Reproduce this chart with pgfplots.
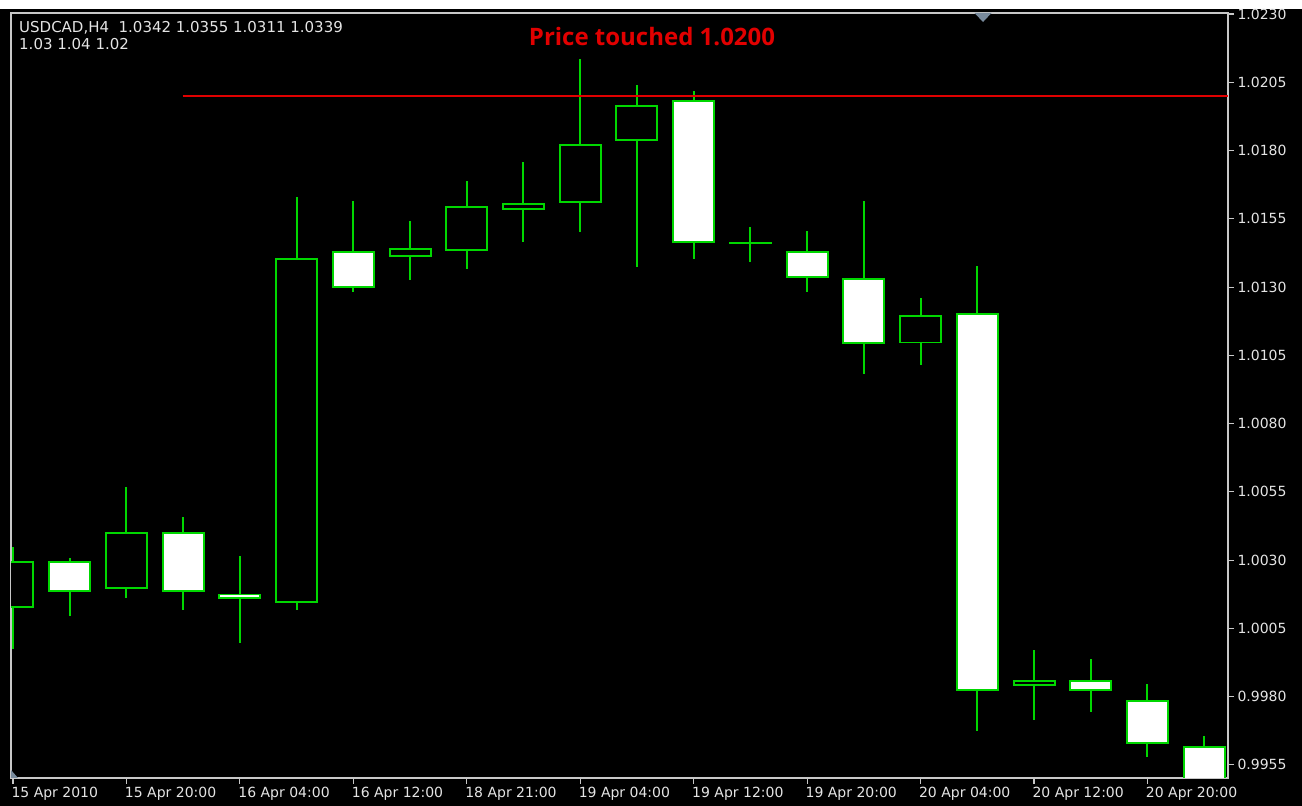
\documentclass[border=0pt]{standalone}
\usepackage{fontspec}
\setmainfont{DejaVu Sans}
\newfontfamily\pricefont{Open Sans}
\usepackage{pgfplots}
\usepackage{pgfplotstable}
\pgfplotsset{compat=1.18}

\definecolor{cndl}{RGB}{0,215,0}
\definecolor{pricered}{RGB}{225,0,0}
\definecolor{frame}{RGB}{200,200,200}
\definecolor{lbl}{RGB}{228,228,228}
\definecolor{tri}{RGB}{120,138,156}

% USDCAD H4 candles: x open high low close
\pgfplotstableread{
x  o       h       l       c
0  1.00127 1.00349 0.99977 1.00297
1  1.00296 1.00310 1.00098 1.00185
2  1.00197 1.00571 1.00164 1.00406
3  1.00406 1.00459 1.00118 1.00185
4  1.00178 1.00316 0.99996 1.00159
5  1.00145 1.01631 1.00118 1.01407
6  1.01434 1.01616 1.01282 1.01297
7  1.01413 1.01545 1.01326 1.01446
8  1.01433 1.01688 1.01367 1.01597
9  1.01582 1.01759 1.01465 1.01609
10 1.01608 1.02137 1.01504 1.01824
11 1.01837 1.02039 1.01373 1.01967
12 1.01985 1.02021 1.01406 1.01461
13 1.01463 1.01520 1.01392 1.01463
14 1.01433 1.01506 1.01281 1.01335
15 1.01335 1.01616 1.00983 1.01094
16 1.01094 1.01259 1.01015 1.01199
17 1.01207 1.01378 0.99674 0.99821
18 0.99839 0.99972 0.99714 0.99861
19 0.99861 0.99939 0.99746 0.99821
20 0.99789 0.99848 0.99579 0.99626
21 0.99619 0.99654 0.99400 0.99450
}\ohlc

\pgfplotsset{candle/.style={draw=none, no markers,
  error bars/.cd, y dir=both, y explicit, error mark=none}}

\begin{document}
\begin{tikzpicture}
\fill[black] (0,0) rectangle (1302pt,806pt);
\fill[white] (0,797pt) rectangle (1302pt,806pt);
\useasboundingbox (0,0) rectangle (1302pt,806pt);
\begin{axis}[
  at={(11pt,28pt)}, anchor=south west,
  width=1217pt, height=765pt, scale only axis,
  xmin=-0.035, xmax=21.42, ymin=0.99502, ymax=1.02304,
  axis line style={draw=frame, line width=1.3pt},
  tick style={draw=frame, line width=1.2pt},
  tick align=outside, major tick length=6pt,
  scaled ticks=false,
  xtick={0,2,4,6,8,10,12,14,16,18,20},
  xticklabels={15 Apr 2010, 15 Apr 20:00, 16 Apr 04:00, 16 Apr 12:00, 18 Apr 21:00,
    19 Apr 04:00, 19 Apr 12:00, 19 Apr 20:00, 20 Apr 04:00, 20 Apr 12:00, 20 Apr 20:00},
  ytick={0.9955,0.9980,1.0005,1.0030,1.0055,1.0080,1.0105,1.0130,1.0155,1.0180,1.0205,1.0230},
  yticklabels={0.9955,0.9980,1.0005,1.0030,1.0055,1.0080,1.0105,1.0130,1.0155,1.0180,1.0205,1.0230},
  xtick pos=left, ytick pos=right,
  xticklabel pos=lower, yticklabel pos=upper,
  ticklabel style={font=\fontsize{14}{16}\selectfont, text=lbl},
  xticklabel style={anchor=north west, xshift=-5pt},
  yticklabel style={anchor=west},
  clip marker paths=true,
]
% wicks
\addplot[candle, error bar style={draw=cndl, line width=2pt}]
  table[x=x, y expr={(\thisrow{h}+\thisrow{l})/2}, y error expr={(\thisrow{h}-\thisrow{l})/2}] {\ohlc};
% body outlines
\addplot[candle, error bar style={draw=cndl, line width=43pt}]
  table[x=x, y expr={(\thisrow{o}+\thisrow{c})/2}, y error expr={max(abs(\thisrow{o}-\thisrow{c})/2,0.00004)}] {\ohlc};
% bull bodies (hollow)
\addplot[candle, error bar style={draw=black, line width=39pt}]
  table[x=x, y expr={\thisrow{c}>\thisrow{o} ? (\thisrow{o}+\thisrow{c})/2 : nan},
    y error expr={abs(\thisrow{c}-\thisrow{o})/2-0.00007}] {\ohlc};
% bear bodies (white)
\addplot[candle, error bar style={draw=white, line width=39pt}]
  table[x=x, y expr={\thisrow{o}>\thisrow{c} ? (\thisrow{o}+\thisrow{c})/2 : nan},
    y error expr={abs(\thisrow{o}-\thisrow{c})/2-0.00007}] {\ohlc};
% price level
\addplot[draw=pricered, line width=1.3pt] coordinates {(2.99,1.0200) (21.42,1.0200)};
\fill[tri] (rel axis cs:0.7917,1) -- (rel axis cs:0.8057,1) -- (rel axis cs:0.7987,0.9882) -- cycle;
\fill[tri] (rel axis cs:0,0) -- (rel axis cs:0,0.0105) -- (rel axis cs:0.0058,0) -- cycle;
\end{axis}
\node[anchor=base west, inner sep=0, text=lbl, font=\fontsize{15}{17}\selectfont]
  at (19pt,773pt) {USDCAD,H4\ \ 1.0342 1.0355 1.0311 1.0339};
\node[anchor=base west, inner sep=0, text=lbl, font=\fontsize{15}{17}\selectfont]
  at (19pt,756pt) {1.03 1.04 1.02};
\node[anchor=base, inner sep=0, text=pricered, font=\pricefont\bfseries\fontsize{24}{27}\selectfont]
  at (652pt,760pt) {Price touched 1.0200};
\end{tikzpicture}
\end{document}
